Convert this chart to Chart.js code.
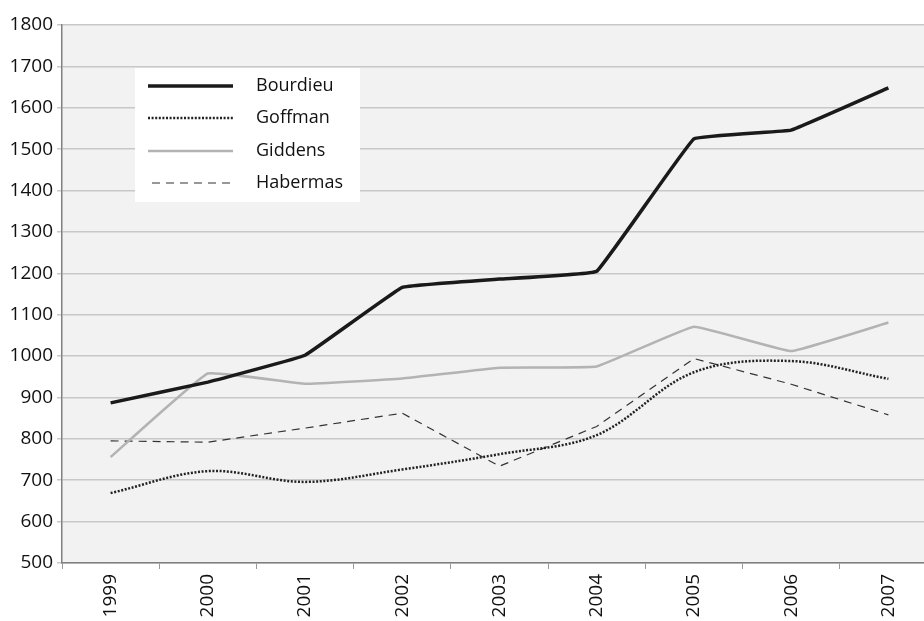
<!DOCTYPE html>
<html>
<head>
<meta charset="utf-8">
<script src="https://cdn.jsdelivr.net/npm/chart.js@4.4.1/dist/chart.umd.min.js"></script>
<style>
  html, body { margin: 0; padding: 0; background: #fff; overflow: hidden; }
  #wrap { width: 940px; height: 621px; position: relative; }
</style>
</head>
<body>
<div id="wrap"><canvas id="chart"></canvas></div>
<script>
const years = ["1999", "2000", "2001", "2002", "2003", "2004", "2005", "2006", "2007"];
const bourdieu = [887, 937, 1002, 1166, 1186, 1205, 1525, 1546, 1648];
const goffman = [669, 722, 696, 726, 763, 809, 961, 988, 945];
const giddens = [756, 958, 933, 946, 972, 975, 1071, 1012, 1081];
const habermas = [795, 792, 826, 862, 734, 830, 994, 932, 858];

const plotBg = {
  id: "plotBg",
  beforeDraw(chart) {
    const { ctx, chartArea: a } = chart;
    ctx.save();
    ctx.fillStyle = "#f2f2f2";
    ctx.fillRect(a.left, a.top, a.right - a.left, a.bottom - a.top);
    ctx.restore();
  },
};

// legend box sits inside the plot, drawn from the dataset styles
const boxLegend = {
  id: "boxLegend",
  afterDraw(chart) {
    const ctx = chart.ctx;
    ctx.save();
    ctx.fillStyle = "#ffffff";
    ctx.fillRect(135, 68, 225, 134);
    const rows = [86, 118, 151, 183];
    chart.data.datasets.forEach((ds, i) => {
      const y = rows[i];
      ctx.beginPath();
      ctx.strokeStyle = ds.borderColor;
      ctx.lineWidth = ds.borderWidth;
      ctx.setLineDash(ds.borderDash || []);
      ctx.moveTo(ds.legendDash ? 152 : 148, y);
      ctx.lineTo(233, y);
      ctx.stroke();
      ctx.setLineDash([]);
      ctx.fillStyle = "#111";
      ctx.font = "18px 'Open Sans'";
      ctx.textBaseline = "middle";
      ctx.fillText(ds.label, 256, y);
    });
    ctx.restore();
  },
};

new Chart(document.getElementById("chart"), {
  type: "line",
  data: {
    labels: years,
    datasets: [
      {
        label: "Bourdieu",
        data: bourdieu,
        borderColor: "#1a1a1a",
        borderWidth: 3.5,
        tension: 0.06,
      },
      {
        label: "Goffman",
        data: goffman,
        borderColor: "#222222",
        borderWidth: 2.5,
        borderDash: [2, 1.6],
        tension: 0.35,
      },
      {
        label: "Giddens",
        data: giddens,
        borderColor: "#b3b3b3",
        borderWidth: 2.5,
        tension: 0.08,
      },
      {
        label: "Habermas",
        data: habermas,
        borderColor: "#333333",
        borderWidth: 1.2,
        borderDash: [8, 6],
        legendDash: true,
        tension: 0,
      },
    ],
  },
  options: {
    responsive: true,
    maintainAspectRatio: false,
    animation: false,
    layout: { padding: { top: 25, right: 3, left: 0, bottom: 0 } },
    elements: { point: { radius: 0 } },
    scales: {
      x: {
        offset: true,
        grid: {
          offset: true,
          drawOnChartArea: false,
          tickLength: 6,
          color: "#999",
        },
        border: { color: "#808080", width: 1.5 },
        ticks: {
          minRotation: 90,
          maxRotation: 90,
          padding: 5,
          color: "#111",
          font: { family: "'Open Sans'", size: 19 },
        },
        afterFit(scale) { scale.height = 58; },
      },
      y: {
        min: 500,
        max: 1800,
        grid: {
          color: "#c8c8c8",
          lineWidth: 1.5,
          tickLength: 5,
        },
        border: { color: "#808080", width: 1.5 },
        ticks: {
          stepSize: 100,
          padding: 4,
          color: "#111",
          font: { family: "'Open Sans'", size: 19 },
          callback: (v) => String(v),
        },
        afterFit(scale) { scale.width = 62; },
      },
    },
    plugins: {
      legend: { display: false },
      tooltip: { enabled: false },
    },
  },
  plugins: [plotBg, boxLegend],
});
</script>
</body>
</html>
